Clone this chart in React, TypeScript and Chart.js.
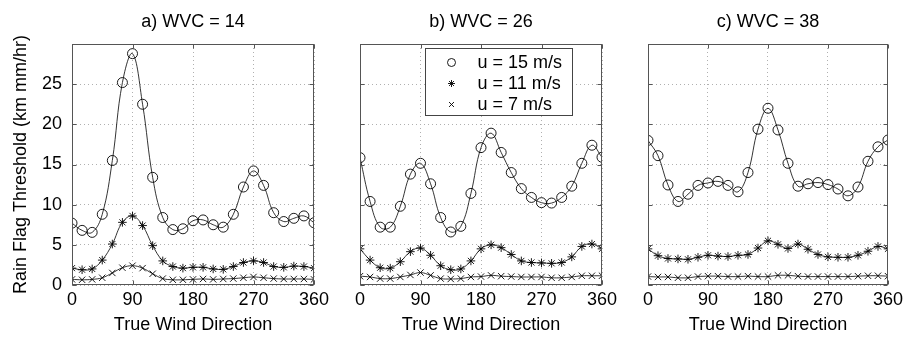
import React, { useEffect, useRef } from 'react';
import { Chart, registerables } from 'chart.js';

Chart.register(...registerables);

// ---------------- data ----------------
const angles = [0, 15, 30, 45, 60, 75, 90, 105, 120, 135, 150, 165, 180, 195, 210, 225, 240, 255, 270, 285, 300, 315, 330, 345, 360];
const xTicks = [0, 90, 180, 270, 360];
const yTicks = [0, 5, 10, 15, 20, 25];
const seriesLabels = ['u = 15 m/s', 'u = 11 m/s', 'u = 7 m/s'];
const panelTitles = ['a) WVC = 14', 'b) WVC = 26', 'c) WVC = 38'];
const xTitle = 'True Wind Direction';
const yTitle = 'Rain Flag Threshold (km mm/hr)';

// WVC = 14
const wvc14_u15 = [7.7, 6.8, 6.55, 8.8, 15.5, 25.2, 28.8, 22.5, 13.4, 8.4, 6.9, 7.0, 8.0, 8.1, 7.5, 7.2, 8.8, 12.2, 14.2, 12.4, 9.0, 7.9, 8.3, 8.6, 7.75];
const wvc14_u11 = [2.1, 1.9, 2.0, 3.1, 5.1, 7.8, 8.6, 7.4, 4.9, 3.0, 2.3, 2.1, 2.2, 2.2, 2.0, 1.95, 2.3, 2.8, 3.0, 2.8, 2.3, 2.2, 2.35, 2.3, 2.1];
const wvc14_u7 = [0.7, 0.65, 0.7, 0.9, 1.5, 2.15, 2.4, 2.1, 1.4, 0.8, 0.65, 0.65, 0.7, 0.75, 0.7, 0.75, 0.8, 0.9, 1.0, 0.9, 0.8, 0.75, 0.75, 0.75, 0.7];

// WVC = 26
const wvc26_u15 = [15.85, 10.4, 7.2, 7.2, 9.8, 13.8, 15.15, 12.6, 8.4, 6.6, 7.3, 11.4, 17.1, 18.9, 16.5, 14.0, 12.0, 10.9, 10.25, 10.2, 10.9, 12.3, 15.15, 17.4, 15.9];
const wvc26_u11 = [4.5, 3.1, 2.15, 2.1, 2.9, 4.15, 4.6, 3.7, 2.4, 1.9, 2.0, 3.0, 4.5, 5.0, 4.65, 3.8, 3.0, 2.8, 2.75, 2.7, 2.8, 3.5, 4.8, 5.1, 4.5];
const wvc26_u7 = [1.1, 1.0, 0.8, 0.8, 1.0, 1.25, 1.55, 1.2, 0.8, 0.75, 0.8, 1.0, 1.05, 1.2, 1.1, 1.05, 1.0, 1.0, 1.0, 0.9, 0.9, 1.0, 1.15, 1.15, 1.15];

// WVC = 38
const wvc38_u15 = [18.0, 16.1, 12.45, 10.4, 11.3, 12.4, 12.7, 12.9, 12.4, 11.6, 14.0, 19.4, 22.0, 19.3, 15.15, 12.3, 12.6, 12.75, 12.5, 11.95, 11.1, 12.2, 15.4, 17.2, 18.05];
const wvc38_u11 = [4.5, 3.65, 3.3, 3.25, 3.2, 3.45, 3.7, 3.6, 3.55, 3.7, 3.8, 4.6, 5.5, 5.06, 4.55, 5.1, 4.45, 3.8, 3.5, 3.45, 3.45, 3.7, 4.2, 4.8, 4.5];
const wvc38_u7 = [1.05, 1.0, 1.0, 0.9, 0.9, 1.05, 1.1, 1.1, 1.05, 1.05, 1.1, 1.05, 1.05, 1.2, 1.2, 1.1, 1.05, 1.05, 1.05, 1.05, 1.05, 1.1, 1.15, 1.15, 1.1];

const panelSeries = [
  [wvc14_u15, wvc14_u11, wvc14_u7],
  [wvc26_u15, wvc26_u11, wvc26_u7],
  [wvc38_u15, wvc38_u11, wvc38_u7],
];

// ---------------- styling ----------------
const FONT = "'Liberation Sans', Arial, Helvetica, sans-serif";
const W = 907;
const H = 337;
const pointStyles = ['circle', 'star', 'crossRot'];
const pointRadii = [5, 4.3, 4.5];

const panelLayout = [
  { padLeft: 0, padRight: 593, yWidth: 72, showY: true, legend: false },
  { padLeft: 360, padRight: 305, yWidth: 0, showY: false, legend: true },
  { padLeft: 648, padRight: 17, yWidth: 0, showY: false, legend: false },
];

function drawMarker(ctx: CanvasRenderingContext2D, style: string, x: number, y: number, r: number) {
  ctx.beginPath();
  if (style === 'circle') {
    ctx.arc(x, y, r, 0, Math.PI * 2);
  } else {
    const d = r * Math.SQRT1_2;
    if (style === 'star') {
      ctx.moveTo(x - r, y); ctx.lineTo(x + r, y);
      ctx.moveTo(x, y - r); ctx.lineTo(x, y + r);
    }
    ctx.moveTo(x - d, y - d); ctx.lineTo(x + d, y + d);
    ctx.moveTo(x - d, y + d); ctx.lineTo(x + d, y - d);
  }
  ctx.stroke();
}

const framePlugin = {
  id: 'frame',
  afterDraw(chart: any, _args: any, opts: any) {
    const { ctx, chartArea, scales } = chart;
    const l = Math.round(chartArea.left) + 0.5;
    const r = Math.round(chartArea.right) - 0.5;
    const t = Math.round(chartArea.top) + 0.5;
    const b = Math.round(chartArea.bottom) - 0.5;
    ctx.save();
    ctx.strokeStyle = '#555';
    ctx.lineWidth = 1;
    ctx.strokeRect(l, t, r - l, b - t);
    // inward tick marks
    const tl = 4;
    ctx.beginPath();
    for (const v of xTicks) {
      const px = Math.round(scales.x.getPixelForValue(v)) + 0.5;
      ctx.moveTo(px, b); ctx.lineTo(px, b - tl);
      ctx.moveTo(px, t); ctx.lineTo(px, t + tl);
    }
    for (const v of [...yTicks, 30]) {
      const py = Math.round(scales.y.getPixelForValue(v)) + 0.5;
      ctx.moveTo(l, py); ctx.lineTo(l + tl, py);
      ctx.moveTo(r, py); ctx.lineTo(r - tl, py);
    }
    ctx.stroke();

    if (opts && opts.legend) {
      const bx = Math.round(chartArea.left + 65) + 0.5;
      const by = Math.round(chartArea.top + 4) + 0.5;
      const bw = 147;
      const bh = 67;
      ctx.fillStyle = '#fff';
      ctx.fillRect(bx, by, bw, bh);
      ctx.strokeStyle = '#444';
      ctx.strokeRect(bx, by, bw, bh);
      ctx.font = `18px ${FONT}`;
      ctx.textBaseline = 'middle';
      ctx.textAlign = 'left';
      seriesLabels.forEach((lab, i) => {
        const cy = by + 14 + i * 21;
        ctx.strokeStyle = '#000';
        ctx.lineWidth = 0.9;
        drawMarker(ctx, pointStyles[i], bx + 26, cy, [4, 3.5, 3.5][i]);
        ctx.fillStyle = '#000';
        ctx.fillText(lab, bx + 52, cy + 1);
      });
    }
    ctx.restore();
  },
};

function Panel({ index }: { index: number }) {
  const ref = useRef<HTMLCanvasElement | null>(null);
  useEffect(() => {
    const cfg = panelLayout[index];
    const series = panelSeries[index];
    const chart = new Chart(ref.current as HTMLCanvasElement, {
      type: 'line',
      data: {
        datasets: series.map((vals, i) => ({
          label: seriesLabels[i],
          data: angles.map((a, k) => ({ x: a, y: vals[k] })),
          borderColor: '#000',
          borderWidth: 0.8,
          tension: 0.4,
          fill: false,
          pointStyle: pointStyles[i] as any,
          pointRadius: pointRadii[i],
          pointBorderColor: '#000',
          pointBackgroundColor: 'rgba(0,0,0,0)',
          pointBorderWidth: 0.9,
        })),
      },
      options: {
        animation: false,
        responsive: false,
        devicePixelRatio: 1,
        events: [],
        layout: { padding: { left: cfg.padLeft, right: cfg.padRight, top: 0, bottom: 0 } },
        plugins: {
          legend: { display: false },
          tooltip: { enabled: false },
          title: {
            display: true,
            text: panelTitles[index],
            fullSize: false,
            color: '#000',
            font: { family: FONT, size: 18, weight: 'normal' },
            padding: { top: 11, bottom: 11.4 },
          },
          frame: { legend: cfg.legend },
        } as any,
        scales: {
          x: {
            type: 'linear',
            min: 0,
            max: 360,
            afterFit: (s: any) => { s.height = 52; },
            afterBuildTicks: (s: any) => { s.ticks = xTicks.map((v) => ({ value: v })); },
            ticks: { color: '#000', padding: 4, font: { family: FONT, size: 18 }, maxRotation: 0 },
            grid: { color: '#b0b0b0', lineWidth: 1, drawTicks: false },
            border: { display: false, dash: [1, 3] },
            title: {
              display: true,
              text: xTitle,
              color: '#000',
              font: { family: FONT, size: 18 },
              padding: { top: 0, bottom: 1.5 },
            },
          },
          y: {
            type: 'linear',
            min: 0,
            max: 30,
            afterFit: (s: any) => { s.width = cfg.yWidth; },
            afterBuildTicks: (s: any) => { s.ticks = [...yTicks, 30].map((v) => ({ value: v })); },
            ticks: {
              display: cfg.showY,
              color: '#000',
              padding: 10,
              font: { family: FONT, size: 18 },
              callback: (v: any) => (yTicks.includes(Number(v)) ? String(v) : ''),
            },
            grid: { color: '#b0b0b0', lineWidth: 1, drawTicks: false },
            border: { display: false, dash: [1, 3] },
            title: {
              display: cfg.showY,
              text: yTitle,
              color: '#000',
              font: { family: FONT, size: 18 },
              padding: { top: 10, bottom: 0 },
            },
          },
        },
      } as any,
      plugins: [framePlugin],
    });
    return () => chart.destroy();
  }, [index]);
  return (
    <canvas
      ref={ref}
      width={W}
      height={H}
      style={{ position: 'absolute', left: 0, top: 0, width: W, height: H }}
    />
  );
}

export default function App() {
  useEffect(() => {
    document.body.style.margin = '0';
  }, []);
  return (
    <div style={{ position: 'relative', width: W, height: H, background: '#fff' }}>
      <Panel index={0} />
      <Panel index={1} />
      <Panel index={2} />
    </div>
  );
}
